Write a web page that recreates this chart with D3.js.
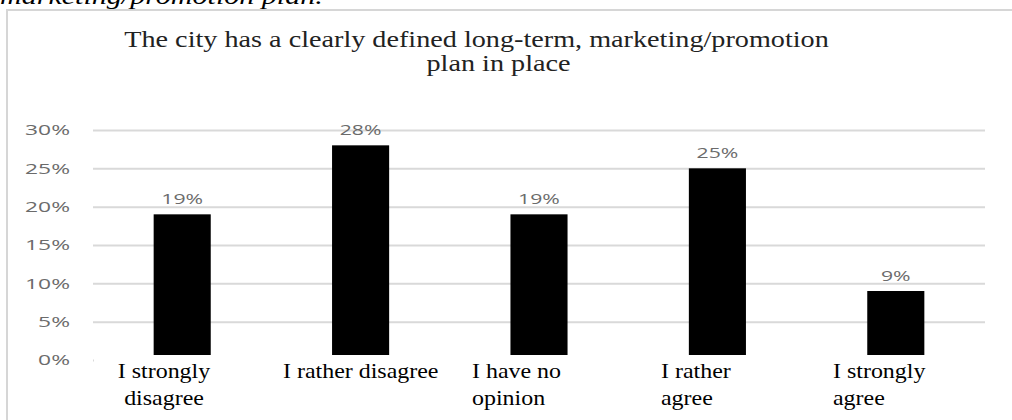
<!DOCTYPE html>
<html>
<head>
<meta charset="utf-8">
<script src="https://cdn.jsdelivr.net/npm/d3@7"></script>
<style>
  html, body { margin: 0; padding: 0; background: #fff; }
  svg { display: block; }
</style>
</head>
<body>
<svg id="chart" width="1012" height="420"></svg>
<script>
// Survey answers and their shares (percent of respondents)
const categories = ["I strongly disagree", "I rather disagree", "I have no opinion", "I rather agree", "I strongly agree"];
const categoryLines = [["I strongly", "disagree"], ["I rather disagree"], ["I have no", "opinion"], ["I rather", "agree"], ["I strongly", "agree"]];
const shares = [19, 28, 19, 25, 9];
const yTicks = [0, 5, 10, 15, 20, 25, 30];
const titleLines = ["The city has a clearly defined long-term, marketing/promotion", "plan in place"];
const caption = "marketing/promotion plan.";

// Layout
const W = 1012, H = 420;
const plot = { left: 93, right: 985, top: 130, bottom: 360 };
const labelCols = [
  { x: 164, anchor: "middle" },
  { x: 283, anchor: "start" },
  { x: 472, anchor: "start" },
  { x: 661, anchor: "start" },
  { x: 833, anchor: "start" }
];

const svg = d3.select("#chart");

// Horizontally stretch a text node so its rendered width equals target
function stretchTo(textSel, target) {
  const w = textSel.node().getComputedTextLength();
  return target / w;
}

function placeText(parent, str, x, y, opts) {
  const g = parent.append("g");
  const t = g.append("text")
    .attr("x", 0).attr("y", 0)
    .attr("text-anchor", opts.anchor || "start")
    .style("font-family", opts.family)
    .style("font-size", opts.size + "px")
    .style("font-style", opts.italic ? "italic" : "normal")
    .attr("fill", opts.fill || "#000")
    .text(str);
  const sx = opts.sx != null ? opts.sx : (opts.width ? stretchTo(t, opts.width) : 1);
  g.attr("transform", `translate(${x},${y}) scale(${sx},1)`);
  return sx;
}

// Page caption above the chart frame
placeText(svg, caption, 0, 4, { family: "'Liberation Serif', 'Times New Roman', serif", size: 24, italic: true, width: 323 });

// Chart frame (top and left edges)
svg.append("path")
  .attr("d", `M7,${H} L7,10 L${W},10`)
  .attr("fill", "none")
  .attr("stroke", "#d6d6d6")
  .attr("stroke-width", 2);

// Title
const titleFont = "'Liberation Serif', 'Times New Roman', serif";
const tsx = placeText(svg, titleLines[0], 476.5, 46.5, { family: titleFont, size: 23, anchor: "middle", fill: "#222", width: 705 });
placeText(svg, titleLines[1], 498.5, 71, { family: titleFont, size: 23, anchor: "middle", fill: "#222", sx: tsx });

// Scales
const x = d3.scaleBand()
  .domain(categories)
  .range([plot.left, plot.right])
  .paddingInner(0.68)
  .paddingOuter(0.34);

const y = d3.scaleLinear()
  .domain([0, 30])
  .range([plot.bottom, plot.top]);

// Value axis with gridlines
const axisFont = "'Open Sans', 'DejaVu Sans', sans-serif";
const yAxis = svg.append("g")
  .attr("transform", `translate(${plot.left},0)`)
  .call(d3.axisLeft(y)
    .tickValues(yTicks)
    .tickSize(-(plot.right - plot.left))
    .tickFormat(d => d + "%"));
yAxis.select(".domain").remove();
yAxis.selectAll(".tick line")
  .attr("stroke", "#d9d9d9")
  .attr("stroke-width", 2);
let axSx = null;
yAxis.selectAll(".tick text")
  .attr("x", 0)
  .attr("dy", "0.35em")
  .attr("text-anchor", "end")
  .style("font-family", axisFont)
  .style("font-size", "14px")
  .attr("fill", "#6b6b6b")
  .each(function (d) {
    if (axSx === null && d === 30) axSx = 45 / this.getComputedTextLength();
  });
yAxis.selectAll(".tick text")
  .attr("transform", `translate(-23,0) scale(${axSx || 1.4},1)`);

// Bars
svg.append("g")
  .selectAll("rect")
  .data(shares)
  .join("rect")
  .attr("x", (d, i) => x(categories[i]))
  .attr("y", d => y(d))
  .attr("width", x.bandwidth())
  .attr("height", d => y(0) - y(d))
  .attr("fill", "#000");

// Value labels above bars
const valG = svg.append("g");
shares.forEach((v, i) => {
  placeText(valG, v + "%", x(categories[i]) + x.bandwidth() / 2, y(v) - 10, {
    family: axisFont, size: 14, anchor: "middle", fill: "#6b6b6b", sx: axSx ? axSx * 0.93 : 1.3
  });
});

// Category label box (covers the bottom edge of the plot)
svg.append("rect")
  .attr("x", plot.left + 1)
  .attr("y", 355)
  .attr("width", W - plot.left - 1)
  .attr("height", H - 355)
  .attr("fill", "#fff");

const catFont = "'Liberation Serif', 'Times New Roman', serif";
const catG = svg.append("g");
// width of "I rather disagree" sets the horizontal stretch
const probe = catG.append("text").style("font-family", catFont).style("font-size", "20px").text(categoryLines[1][0]);
const catSx = 155.6 / probe.node().getComputedTextLength();
probe.remove();
categoryLines.forEach((lines, i) => {
  lines.forEach((line, j) => {
    placeText(catG, line, labelCols[i].x, 378 + j * 26.5, {
      family: catFont, size: 20, anchor: labelCols[i].anchor, fill: "#000", sx: catSx
    });
  });
});
</script>
</body>
</html>
